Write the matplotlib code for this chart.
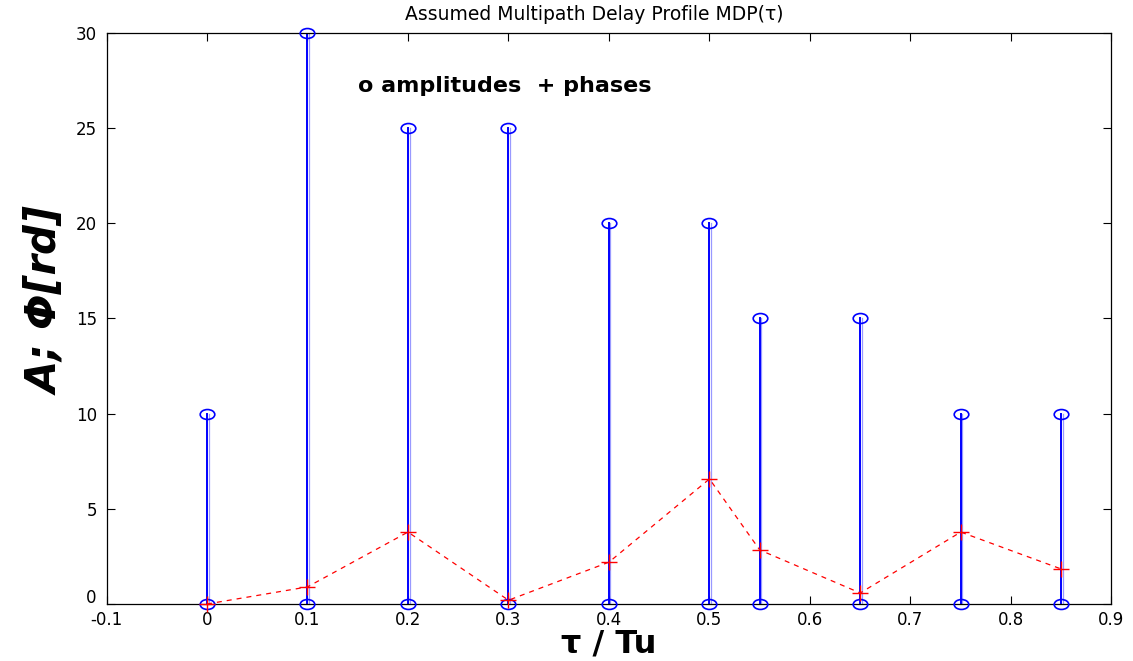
import matplotlib
matplotlib.use("Agg")
import matplotlib.pyplot as plt
from matplotlib.path import Path
from matplotlib.transforms import ScaledTranslation
import numpy as np

plt.rcParams['font.family'] = ['DejaVu Sans']

# Multipath delay profile: delays (in units of Tu), amplitudes and phases
tau = [0.0, 0.1, 0.2, 0.3, 0.4, 0.5, 0.55, 0.65, 0.75, 0.85]
amplitudes = [10, 30, 25, 25, 20, 20, 15, 15, 10, 10]
phases = [0.0, 0.9, 3.78, 0.2, 2.2, 6.57, 2.84, 0.58, 3.78, 1.84]

xticks = [-0.1, 0, 0.1, 0.2, 0.3, 0.4, 0.5, 0.6, 0.7, 0.8, 0.9]
xticklabels = ['-0.1', '0', '0.1', '0.2', '0.3', '0.4', '0.5', '0.6', '0.7', '0.8', '0.9']
yticks = [0, 5, 10, 15, 20, 25, 30]

# slightly flattened open circle, as rendered by the stretched axes
circ = Path.unit_circle()
ellipse = Path(circ.vertices * np.array([1.0, 0.68]), circ.codes)

fig = plt.figure(figsize=(11.33, 6.61), dpi=100)
ax = fig.add_axes([0.094, 0.0862, 0.887, 0.864])

blue = '#0000ff'
for t, a in zip(tau, amplitudes):
    ax.plot([t, t], [0, a], color=blue, lw=1.4, zorder=2)
    ax.plot([t + 0.0015, t + 0.0015], [0, a], color=blue, lw=0.9, alpha=0.4, zorder=2)
ax.plot(tau, amplitudes, linestyle='none', marker=ellipse, markersize=10.5,
        markerfacecolor='none', markeredgecolor=blue, markeredgewidth=1.2,
        clip_on=False, zorder=3)
ax.plot(tau, np.zeros(len(tau)), linestyle='none', marker=ellipse, markersize=10.5,
        markerfacecolor='none', markeredgecolor=blue, markeredgewidth=1.2,
        clip_on=False, zorder=3)

ax.plot(tau, phases, color='red', linestyle=(0, (4, 4)), lw=0.9,
        marker='+', markersize=11, markeredgewidth=1.0, clip_on=False, zorder=4)

ax.set_xlim(-0.1, 0.9)
ax.set_ylim(0, 30)
ax.set_xticks(xticks)
ax.set_xticklabels(xticklabels)
ax.set_yticks(yticks)
ax.tick_params(direction='in', top=True, right=True, labelsize=12,
               length=6, width=0.8)
ax.tick_params(axis='y', pad=7)
ax.tick_params(axis='x', pad=5)
for s in ax.spines.values():
    s.set_linewidth(0.9)

# lift the bottom y label a little so it clears the first x label
fig.canvas.draw()
ylab0 = ax.get_yticklabels()[0]
ylab0.set_transform(ylab0.get_transform() + ScaledTranslation(0, 6 / 72, fig.dpi_scale_trans))

ax.set_title('Assumed Multipath Delay Profile MDP(\u03c4)', fontsize=13.5, pad=9, x=0.485)
ax.set_xlabel('\u03c4 / Tu', fontsize=23, fontweight='bold', labelpad=0)
ax.set_ylabel('A; \u03a6[rd]', fontsize=30, fontweight='bold', fontstyle='italic',
              labelpad=6, y=0.53)
ax.text(0.15, 27.2, 'o amplitudes  + phases', fontsize=16, fontweight='bold',
        va='center', ha='left')

fig.savefig('out.png', dpi=100)
